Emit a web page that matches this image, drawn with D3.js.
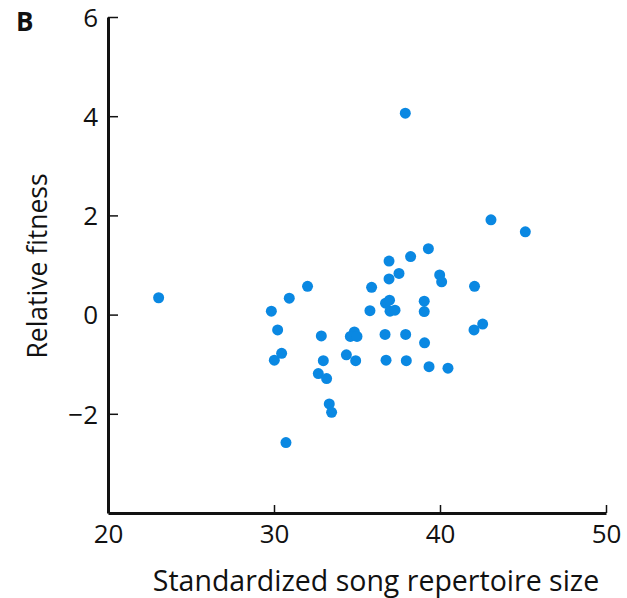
<!DOCTYPE html>
<html>
<head>
<meta charset="utf-8">
<script src="https://cdn.jsdelivr.net/npm/d3@7"></script>
<style>
  body { margin: 0; background: #fff; }
  svg text { font-family: "Open Sans", "Noto Sans", sans-serif; fill: #111; }
</style>
</head>
<body>
<div id="chart"></div>
<script>
// repertoire size (x) and relative fitness (y)
var repertoire = [23.05, 32.02, 30.92, 29.84, 30.22, 30.46, 30.02, 32.85, 32.97, 32.67,
                  33.17, 34.84, 34.6, 35.0, 34.36, 34.92, 33.33, 33.47, 30.72, 39.3,
                  38.23, 36.93, 37.53, 36.93, 35.88, 39.98, 40.1, 36.72, 36.96, 36.99,
                  37.29, 35.78, 39.05, 39.05, 36.69, 37.93, 39.07, 36.75, 37.97, 39.34,
                  40.48, 43.07, 45.14, 42.08, 42.57, 42.05, 37.91];
var fitness = [0.34, 0.57, 0.33, 0.07, -0.31, -0.78, -0.92, -0.43, -0.93, -1.19,
               -1.29, -0.35, -0.44, -0.44, -0.81, -0.93, -1.80, -1.97, -2.58, 1.33,
               1.17, 1.08, 0.83, 0.72, 0.55, 0.80, 0.66, 0.23, 0.29, 0.07,
               0.09, 0.08, 0.27, 0.06, -0.40, -0.40, -0.57, -0.92, -0.93, -1.05,
               -1.08, 1.91, 1.67, 0.57, -0.19, -0.31, 4.06];
var xTicks = [20, 30, 40, 50];
var yTicks = [-2, 0, 2, 4, 6];

const W = 627, H = 598;
const margin = {top: 17, right: 21, bottom: 85, left: 108};
var width = W - margin.left - margin.right;
var height = H - margin.top - margin.bottom;

var svg = d3.select('#chart').append('svg')
    .attr('width', W)
    .attr('height', H);

var g = svg.append('g')
    .attr('transform', 'translate(' + margin.left + ',' + margin.top + ')');

var xScale = d3.scaleLinear().domain([20, 50]).range([0, width]);
var yScale = d3.scaleLinear().domain([-4, 6]).range([height, 0]);

var points = repertoire.map(function(d, i) { return {x: d, y: fitness[i]}; });

// axes with inward ticks
var xAxis = d3.axisBottom(xScale).tickValues(xTicks)
    .tickSizeInner(-8).tickSizeOuter(0).tickPadding(10);
var yAxis = d3.axisLeft(yScale).tickValues(yTicks)
    .tickSizeInner(-10).tickSizeOuter(0).tickPadding(10)
    .tickFormat(function(d) { return d < 0 ? '\u2212' + Math.abs(d) : d; });

var gx = g.append('g')
    .attr('transform', 'translate(0,' + height + ')')
    .call(xAxis);
var gy = g.append('g').call(yAxis);

[gx, gy].forEach(function(a) {
    a.select('.domain').attr('stroke', '#111').attr('stroke-width', 3);
    a.selectAll('.tick line').attr('stroke', '#111').attr('stroke-width', 1.5);
    a.selectAll('.tick text').style('font-size', '26px');
});
gy.selectAll('.tick text').attr('dy', '0.36em');
gx.selectAll('.tick text').attr('dy', '0.78em');

// dots
g.append('g').selectAll('circle')
    .data(points)
    .enter()
    .append('circle')
    .attr('cx', function(d) { return xScale(d.x); })
    .attr('cy', function(d) { return yScale(d.y); })
    .attr('r', 5.5)
    .attr('fill', '#0a88e2');

// labels
svg.append('text')
    .attr('x', 376)
    .attr('y', 591)
    .attr('text-anchor', 'middle')
    .style('font-size', '28.5px')
    .text('Standardized song repertoire size');

svg.append('text')
    .attr('transform', 'translate(47,266) rotate(-90)')
    .attr('text-anchor', 'middle')
    .style('font-size', '26.5px')
    .text('Relative fitness');

svg.append('text')
    .attr('x', 16)
    .attr('y', 31)
    .style('font-size', '26px')
    .style('font-weight', 'bold')
    .text('B');
</script>
</body>
</html>
